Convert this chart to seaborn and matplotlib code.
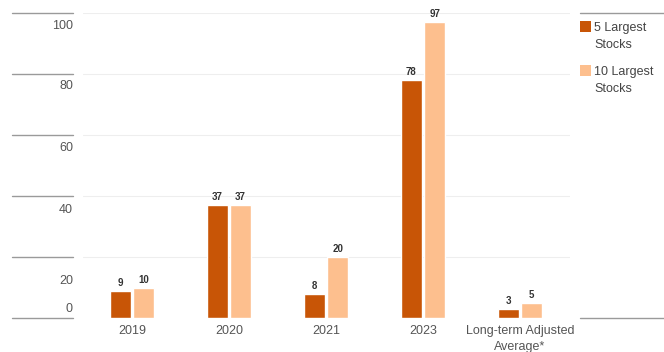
import matplotlib
matplotlib.use("Agg")
import matplotlib.pyplot as plt
import matplotlib.transforms as mtransforms
from matplotlib.patches import Rectangle
import seaborn as sns
import pandas as pd

categories = ["2019", "2020", "2021", "2023", "Long-term Adjusted\nAverage*"]
largest5 = [9, 37, 8, 78, 3]
largest10 = [10, 37, 20, 97, 5]
series_names = ["5 Largest\nStocks", "10 Largest\nStocks"]
y_ticks = [0, 20, 40, 60, 80, 100]

df = pd.DataFrame({
    "cat": categories * 2,
    "value": largest5 + largest10,
    "series": [series_names[0]] * len(categories) + [series_names[1]] * len(categories),
})

sns.set_theme(style="white")
plt.rcParams["font.family"] = ["Liberation Sans Narrow", "Liberation Sans", "DejaVu Sans"]

W, H = 664, 352
fig = plt.figure(figsize=(W / 100, H / 100), dpi=100)
ax_left, ax_right, ax_top, ax_bot = 83, 570, 13, 318
ax = fig.add_axes([ax_left / W, (H - ax_bot) / H, (ax_right - ax_left) / W, (ax_bot - ax_top) / H])

colors = ["#C85506", "#FDBF8E"]
sns.barplot(data=df, x="cat", y="value", hue="series", palette=colors,
            width=0.48, gap=0.08, saturation=1, ax=ax, legend=False)

ax.set_ylim(0, 100)
ax.set_xlim(-0.505, 4.515)
for s in ax.spines.values():
    s.set_visible(False)
ax.set_xlabel("")
ax.set_ylabel("")
ax.set_yticks([])
ax.tick_params(axis="x", length=0, pad=5, labelsize=9, colors="#555555")
for lbl in ax.get_xticklabels():
    lbl.set_linespacing(1.5)

# faint gridlines
for t in y_ticks[1:]:
    ax.axhline(t, color="#EEEEEE", lw=0.8, zorder=0)

# value labels
for cont in ax.containers:
    ax.bar_label(cont, padding=2, fontsize=7, fontweight="bold", color="#333333")

# left tick segments and labels
trans = mtransforms.blended_transform_factory(ax.transAxes, ax.transData)
x0 = (12 - ax_left) / (ax_right - ax_left)
x1 = (73 - ax_left) / (ax_right - ax_left)
label_offsets = {100: -13, 80: -12, 60: -13, 40: -14, 20: -24, 0: 9}
for t in y_ticks:
    ax.plot([x0, x1], [t, t], transform=trans, color="#9A9A9A", lw=1.0, clip_on=False)
    off = mtransforms.offset_copy(trans, fig=fig, x=0, y=label_offsets[t] * 72 / 100, units="points")
    ax.text(x1, t, str(t), transform=off, ha="right", va="center", fontsize=9, color="#555555")

# right lines
rx0 = (580 - ax_left) / (ax_right - ax_left)
rx1 = (664 - ax_left) / (ax_right - ax_left)
for t in [0, 100]:
    ax.plot([rx0, rx1], [t, t], transform=trans, color="#9A9A9A", lw=1.0, clip_on=False)

# legend (manual, top-aligned markers)
leg_tops = [21, 65]
for name, col, top in zip(series_names, colors, leg_tops):
    fig.patches.append(Rectangle((580 / W, 1 - (top + 11) / H), 11 / W, 11 / H,
                                 transform=fig.transFigure, facecolor=col, edgecolor="none"))
    fig.text(594 / W, 1 - (top + 1) / H, name, ha="left", va="top", fontsize=9,
             color="#444444", linespacing=1.5)

fig.savefig("out.png", dpi=100)
